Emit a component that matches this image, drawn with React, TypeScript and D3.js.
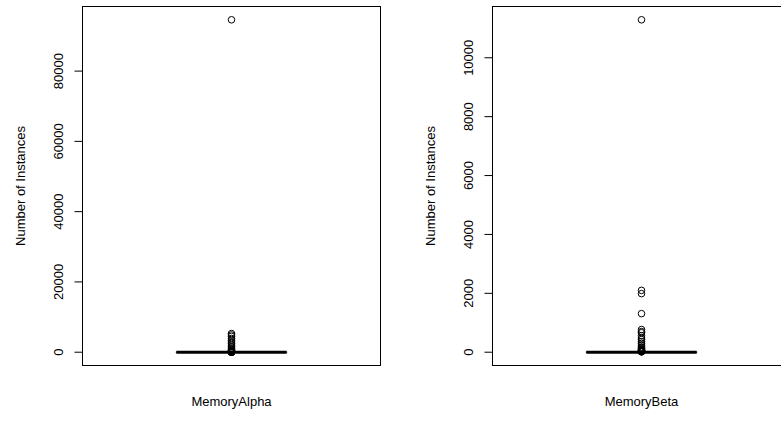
import * as d3 from "d3";

// boxplot stats: lower whisker, q1, median, q3, upper whisker
const groups = ["MemoryAlpha", "MemoryBeta"];
const alphaStats = [0, 0, 1, 3, 7];
const betaStats = [0, 0, 1, 3, 7];
const alphaOutliers = [
  94600, 5300, 4900, 4500, 3900, 3400, 2900, 2500, 2000, 1600, 1200, 900, 650,
  450, 320, 220, 160, 110, 80, 60, 45, 35, 28, 22, 18, 15,
];
const betaOutliers = [
  11290, 2100, 1990, 1310, 770, 700, 660, 560, 480, 430, 360, 300, 240, 180,
  150, 120, 95, 75, 60, 48, 38, 30, 24, 19, 16, 13,
];
const alphaTicks = [0, 20000, 40000, 60000, 80000];
const betaTicks = [0, 2000, 4000, 6000, 8000, 10000];

const W = 781;
const H = 441;
const FONT = "'Liberation Sans', Arial, Helvetica, sans-serif";
const FS = 13;

type PanelProps = {
  name: string;
  stats: number[];
  outliers: number[];
  ticks: number[];
  left: number;
};

function Panel({ name, stats, outliers, ticks, left }: PanelProps) {
  const right = left + 298;
  const top = 6.5;
  const bottom = 365.5;
  const lo = Math.min(stats[0], ...outliers);
  const hi = Math.max(stats[4], ...outliers);
  const pad = (hi - lo) * 0.04;
  const y = d3.scaleLinear().domain([lo - pad, hi + pad]).range([bottom, top]);
  const x = d3.scaleLinear().domain([0.5 - 0.04, 1.5 + 0.04]).range([left, right]);
  const cx = x(1);
  const hw = x(1.2) - x(1);
  const sw = x(1.1) - x(1);
  const cy = (top + bottom) / 2;

  return (
    <g>
      <rect x={left} y={top} width={right - left} height={bottom - top} fill="none" stroke="#000" strokeWidth={1} />
      {/* y axis */}
      <line x1={left} x2={left} y1={y(ticks[0])} y2={y(ticks[ticks.length - 1])} stroke="#000" />
      {ticks.map(t => (
        <g key={t}>
          <line x1={left - 8} x2={left} y1={y(t)} y2={y(t)} stroke="#000" />
          <text
            transform={`translate(${left - 20},${y(t)}) rotate(-90)`}
            textAnchor="middle"
            fontSize={FS}
            fontFamily={FONT}
          >
            {t}
          </text>
        </g>
      ))}
      <text
        transform={`translate(${left - 58},${cy}) rotate(-90)`}
        textAnchor="middle"
        fontSize={FS}
        fontFamily={FONT}
      >
        Number of Instances
      </text>
      <text x={cx} y={406} textAnchor="middle" fontSize={FS} fontFamily={FONT}>
        {name}
      </text>
      {/* box */}
      <line x1={cx} x2={cx} y1={y(stats[0])} y2={y(stats[1])} stroke="#000" strokeDasharray="4,3" />
      <line x1={cx} x2={cx} y1={y(stats[3])} y2={y(stats[4])} stroke="#000" strokeDasharray="4,3" />
      <line x1={cx - sw} x2={cx + sw} y1={y(stats[0])} y2={y(stats[0])} stroke="#000" />
      <line x1={cx - sw} x2={cx + sw} y1={y(stats[4])} y2={y(stats[4])} stroke="#000" />
      <rect x={cx - hw} y={y(stats[3])} width={2 * hw} height={Math.max(0, y(stats[1]) - y(stats[3]))} fill="none" stroke="#000" />
      <line x1={cx - hw} x2={cx + hw} y1={y(stats[2])} y2={y(stats[2])} stroke="#000" strokeWidth={3} />
      {outliers.map((v, i) => (
        <circle key={i} cx={cx} cy={y(v)} r={3.3} fill="none" stroke="#000" strokeWidth={1} />
      ))}
    </g>
  );
}

export default function App() {
  return (
    <svg
      width={W}
      height={H}
      style={{ position: "absolute", left: 0, top: 0, background: "#fff" }}
    >
      <rect width={W} height={H} fill="#fff" />
      <Panel name={groups[0]} stats={alphaStats} outliers={alphaOutliers} ticks={alphaTicks} left={82.5} />
      <Panel name={groups[1]} stats={betaStats} outliers={betaOutliers} ticks={betaTicks} left={492.5} />
    </svg>
  );
}
